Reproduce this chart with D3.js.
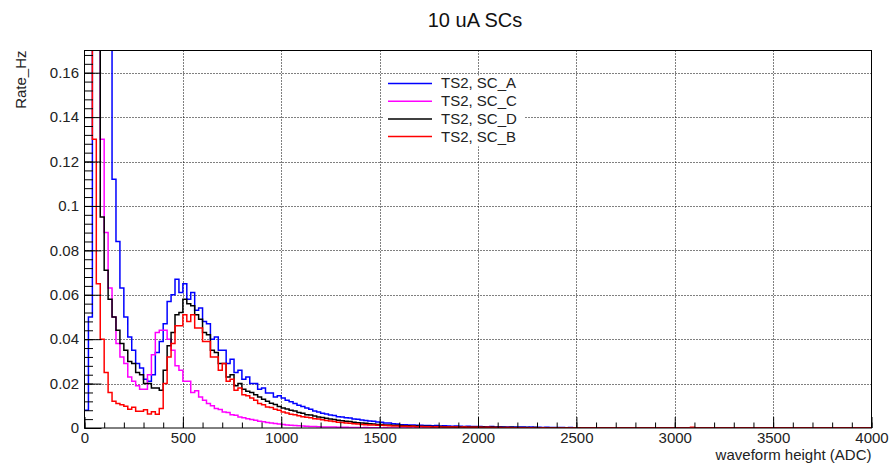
<!DOCTYPE html>
<html>
<head>
<meta charset="utf-8">
<script src="https://cdn.jsdelivr.net/npm/d3@7"></script>
<style>
  body { margin: 0; background: #fff; }
  svg { display: block; font-family: "Liberation Sans", Arial, sans-serif; }
</style>
</head>
<body>
<div id="chart"></div>
<script>
// histogram binning: 200 bins of 20 ADC over 0..4000
const binWidth = 20;

const title = "10 uA SCs";
const xTitle = "waveform height (ADC)";
const yTitle = "Rate_Hz";

const xTicks = [0, 500, 1000, 1500, 2000, 2500, 3000, 3500, 4000];
const xTickLabels = ["0", "500", "1000", "1500", "2000", "2500", "3000", "3500", "4000"];
const yTicks = [0, 0.02, 0.04, 0.06, 0.08, 0.1, 0.12, 0.14, 0.16];
const yTickLabels = ["0", "0.02", "0.04", "0.06", "0.08", "0.1", "0.12", "0.14", "0.16"];

const seriesNames = ["TS2, SC_A", "TS2, SC_C", "TS2, SC_D", "TS2, SC_B"];

// rate per bin (Hz), one row = 10 bins = 200 ADC
const rateA = [
  0.008, 0.05, 0.19, 0.30, 0.33, 0.26, 0.175, 0.112, 0.084, 0.063,
  0.050, 0.041, 0.035, 0.029, 0.027, 0.022, 0.021, 0.024, 0.034, 0.039,
  0.047, 0.057, 0.060, 0.067, 0.061, 0.065, 0.058, 0.061, 0.053, 0.054,
  0.048, 0.047, 0.040, 0.041, 0.035, 0.035, 0.029, 0.031, 0.025, 0.026,
  0.022, 0.023, 0.020, 0.020, 0.0175, 0.018, 0.0158, 0.0158, 0.014, 0.0145,
  0.0135, 0.0125, 0.0118, 0.011, 0.0102, 0.0097, 0.009, 0.0084, 0.0077, 0.0072,
  0.0066, 0.0063, 0.0058, 0.0056, 0.0051, 0.005, 0.0046, 0.0045, 0.0041, 0.0039,
  0.0036, 0.0034, 0.0031, 0.003, 0.0027, 0.0026, 0.0023, 0.0022, 0.0019, 0.0018,
  0.0015, 0.0015, 0.0013, 0.0014, 0.0012, 0.0012, 0.0011, 0.0011, 0.001, 0.0011,
  0.0009, 0.001, 0.0009, 0.0008, 0.0009, 0.0008, 0.0007, 0.0008, 0.0007, 0.0007,
  0.0007, 0.0006, 0.0006, 0.0007, 0.0005, 0.0006, 0.0005, 0.0005, 0.0004, 0.0005,
  0.0004, 0.0004, 0.0003, 0.0004, 0.0003, 0.0003, 0.0002, 0.0003, 0.0002, 0.0002,
  0.0002, 0.0002, 0.0001, 0.0002, 0.0001, 0.0001, 0.0001, 0, 0.0001, 0,
  0, 0, 0, 0, 0, 0, 0, 0, 0, 0,
  0, 0, 0, 0, 0, 0, 0, 0, 0, 0,
  0, 0, 0, 0, 0, 0, 0, 0, 0, 0,
  0, 0, 0, 0, 0, 0, 0, 0, 0, 0,
  0, 0, 0, 0, 0, 0, 0, 0, 0, 0,
  0, 0, 0, 0, 0, 0, 0, 0, 0, 0,
  0, 0, 0, 0, 0, 0, 0, 0, 0, 0
];

const rateC = [
  0.35, 0.46, 0.40, 0.22, 0.13, 0.088, 0.063, 0.050, 0.038, 0.032,
  0.029, 0.023, 0.021, 0.019, 0.0175, 0.0175, 0.024, 0.033, 0.043, 0.044,
  0.044, 0.040, 0.035, 0.028, 0.026, 0.021, 0.021, 0.016, 0.0168, 0.014,
  0.0125, 0.011, 0.010, 0.0088, 0.0083, 0.0072, 0.007, 0.006, 0.0057, 0.005,
  0.0046, 0.0042, 0.0038, 0.0035, 0.003, 0.0028, 0.0025, 0.0023, 0.002, 0.0018,
  0.0016, 0.0014, 0.0012, 0.0011, 0.001, 0.0009, 0.0008, 0.0007, 0.0007, 0.0006,
  0.0005, 0.0005, 0.0004, 0.0004, 0.0003, 0.0003, 0.0003, 0.0002, 0.0002, 0.0002,
  0.0001, 0.0002, 0.0001, 0.0001, 0.0001, 0, 0.0001, 0, 0, 0,
  0, 0, 0, 0, 0, 0, 0, 0, 0, 0,
  0, 0, 0, 0, 0, 0, 0, 0, 0, 0,
  0, 0, 0, 0, 0, 0, 0, 0, 0, 0,
  0, 0, 0, 0, 0, 0, 0, 0, 0, 0,
  0, 0, 0, 0, 0, 0, 0, 0, 0, 0,
  0, 0, 0, 0, 0, 0, 0, 0, 0, 0,
  0, 0, 0, 0, 0, 0, 0, 0, 0, 0,
  0, 0, 0, 0, 0, 0, 0, 0, 0, 0,
  0, 0, 0, 0, 0, 0, 0, 0, 0, 0,
  0, 0, 0, 0, 0, 0, 0, 0, 0, 0,
  0, 0, 0, 0, 0, 0, 0, 0, 0, 0,
  0, 0, 0, 0, 0, 0, 0, 0, 0, 0
];

const rateD = [
  0.30, 0.42, 0.34, 0.18, 0.095, 0.071, 0.058, 0.050, 0.044, 0.038,
  0.035, 0.030, 0.029, 0.025, 0.024, 0.020, 0.020, 0.018, 0.018, 0.017,
  0.026, 0.037, 0.043, 0.051, 0.052, 0.058, 0.056, 0.055, 0.051, 0.049,
  0.043, 0.042, 0.035, 0.034, 0.029, 0.029, 0.023, 0.024, 0.019, 0.020,
  0.0175, 0.0165, 0.016, 0.015, 0.014, 0.013, 0.012, 0.0112, 0.0106, 0.0097,
  0.009, 0.0086, 0.008, 0.0076, 0.007, 0.0066, 0.006, 0.0058, 0.0054, 0.005,
  0.0047, 0.0044, 0.004, 0.0038, 0.0035, 0.0033, 0.003, 0.0029, 0.0026, 0.0024,
  0.0022, 0.0021, 0.0019, 0.0018, 0.0016, 0.0016, 0.0014, 0.0014, 0.0012, 0.0012,
  0.0011, 0.001, 0.001, 0.0009, 0.0009, 0.0008, 0.0008, 0.0008, 0.0007, 0.0007,
  0.0007, 0.0006, 0.0006, 0.0006, 0.0005, 0.0005, 0.0005, 0.0004, 0.0005, 0.0004,
  0.0004, 0.0004, 0.0003, 0.0004, 0.0003, 0.0003, 0.0003, 0.0002, 0.0003, 0.0002,
  0.0002, 0.0002, 0.0002, 0.0001, 0.0002, 0.0001, 0.0001, 0.0001, 0.0001, 0.0001,
  0.0001, 0, 0.0001, 0, 0, 0.0001, 0, 0, 0, 0,
  0, 0, 0, 0, 0, 0, 0, 0, 0, 0,
  0, 0, 0, 0, 0, 0, 0, 0, 0, 0,
  0, 0, 0, 0, 0, 0, 0, 0, 0, 0,
  0, 0, 0, 0, 0, 0, 0, 0, 0, 0,
  0, 0, 0, 0, 0, 0, 0, 0, 0, 0,
  0, 0, 0, 0, 0, 0, 0, 0, 0, 0,
  0, 0, 0, 0, 0, 0, 0, 0, 0, 0
];

const rateB = [
  0.25, 0.40, 0.13, 0.065, 0.040, 0.025, 0.016, 0.012, 0.011, 0.0105,
  0.0098, 0.0085, 0.0093, 0.0075, 0.0075, 0.0082, 0.0063, 0.0073, 0.0062, 0.0088,
  0.020, 0.032, 0.038, 0.046, 0.046, 0.051, 0.048, 0.051, 0.045, 0.045,
  0.039, 0.039, 0.032, 0.032, 0.026, 0.029, 0.021, 0.022, 0.017, 0.018,
  0.015, 0.0145, 0.0135, 0.0125, 0.011, 0.0105, 0.0095, 0.0092, 0.0085, 0.008,
  0.0072, 0.0068, 0.0062, 0.006, 0.0055, 0.0051, 0.0048, 0.0046, 0.0042, 0.004,
  0.0037, 0.0034, 0.0031, 0.0029, 0.0026, 0.0025, 0.0022, 0.0021, 0.0019, 0.0018,
  0.0016, 0.0015, 0.0014, 0.0013, 0.0012, 0.0012, 0.0011, 0.001, 0.0009, 0.0009,
  0.0008, 0.0008, 0.0007, 0.0008, 0.0006, 0.0007, 0.0006, 0.0006, 0.0005, 0.0006,
  0.0005, 0.0004, 0.0005, 0.0004, 0.0004, 0.0003, 0.0004, 0.0003, 0.0003, 0.0003,
  0.0003, 0.0002, 0.0003, 0.0002, 0.0002, 0.0002, 0.0001, 0.0002, 0.0001, 0.0001,
  0.0001, 0.0001, 0, 0.0001, 0, 0, 0.0001, 0, 0, 0,
  0, 0, 0, 0, 0, 0, 0, 0, 0, 0,
  0, 0, 0, 0, 0, 0, 0, 0, 0, 0,
  0, 0, 0, 0, 0, 0, 0, 0, 0, 0,
  0, 0, 0, 0, 0.0003, 0, 0, 0, 0, 0,
  0, 0, 0, 0, 0, 0, 0, 0, 0, 0,
  0, 0, 0, 0, 0, 0, 0, 0, 0, 0,
  0, 0, 0, 0, 0, 0, 0, 0, 0, 0,
  0, 0, 0, 0, 0, 0, 0, 0, 0, 0
];

const seriesRates = [rateA, rateC, rateD, rateB];
const colors = ["#0000ff", "#ff00ff", "#000000", "#ff0000"];

const width = 890, height = 464;
const frame = {left: 84.5, right: 871.5, top: 50.5, bottom: 428};

const x = d3.scaleLinear().domain([0, 4000]).range([frame.left, frame.right]);
const y = d3.scaleLinear().domain([0, 0.17]).range([frame.bottom, frame.top]);

const svg = d3.select("#chart").append("svg")
    .attr("width", width)
    .attr("height", height)
    .attr("viewBox", [0, 0, width, height]);

svg.append("defs").append("clipPath")
    .attr("id", "frame-clip")
  .append("rect")
    .attr("x", frame.left)
    .attr("y", frame.top)
    .attr("width", frame.right - frame.left)
    .attr("height", frame.bottom - frame.top);

// dotted grid at the major ticks
const grid = svg.append("g")
    .attr("stroke", "#000")
    .attr("stroke-width", 1)
    .attr("stroke-dasharray", "1,2");

grid.selectAll(".gx")
  .data(xTicks.slice(1, -1))
  .join("line")
    .attr("x1", d => Math.round(x(d)) + 0.5)
    .attr("x2", d => Math.round(x(d)) + 0.5)
    .attr("y1", frame.top)
    .attr("y2", frame.bottom);

grid.selectAll(".gy")
  .data(yTicks.slice(1))
  .join("line")
    .attr("x1", frame.left)
    .attr("x2", frame.right)
    .attr("y1", d => Math.round(y(d)) + 0.5)
    .attr("y2", d => Math.round(y(d)) + 0.5);

// histograms drawn as steps along the bin edges
const line = d3.line()
    .x(d => x(d[0]))
    .y(d => y(d[1]));

const plot = svg.append("g").attr("clip-path", "url(#frame-clip)");

seriesRates.forEach((rates, i) => {
  const pts = rates.flatMap((v, b) => [[b * binWidth, v], [(b + 1) * binWidth, v]]);
  plot.append("path")
      .attr("d", line(pts))
      .attr("fill", "none")
      .attr("stroke", colors[i])
      .attr("stroke-width", 1.5)
      .attr("stroke-linejoin", "miter");
});

// axes
const yMinor = d3.range(0, 0.1701, 0.004);
const xMinor = d3.range(0, 4001, 100);

svg.append("g")
    .attr("transform", `translate(${frame.left},0)`)
    .call(d3.axisLeft(y).tickValues(yMinor).tickSize(-8.5).tickFormat(""))
    .call(g => g.select(".domain").remove());

svg.append("g")
    .attr("transform", `translate(${frame.left},0)`)
    .call(d3.axisLeft(y).tickValues(yTicks).tickSizeInner(-17).tickSizeOuter(0)
        .tickPadding(5.5).tickFormat((d, i) => yTickLabels[i]))
    .call(g => g.select(".domain").remove())
    .call(g => g.selectAll("text")
        .attr("font-size", 15)
        .attr("font-family", "Liberation Sans, Arial, sans-serif")
        .attr("fill", "#222"));

svg.append("g")
    .attr("transform", `translate(0,${frame.bottom})`)
    .call(d3.axisBottom(x).tickValues(xMinor).tickSize(-5.5).tickFormat(""))
    .call(g => g.select(".domain").remove());

svg.append("g")
    .attr("transform", `translate(0,${frame.bottom})`)
    .call(d3.axisBottom(x).tickValues(xTicks).tickSizeInner(-11).tickSizeOuter(0)
        .tickPadding(4.5).tickFormat((d, i) => xTickLabels[i]))
    .call(g => g.select(".domain").remove())
    .call(g => g.selectAll("text")
        .attr("font-size", 15)
        .attr("font-family", "Liberation Sans, Arial, sans-serif")
        .attr("fill", "#222"));

svg.selectAll(".tick line").attr("stroke", "#000");

// frame
svg.append("rect")
    .attr("x", frame.left)
    .attr("y", frame.top)
    .attr("width", frame.right - frame.left)
    .attr("height", frame.bottom - frame.top)
    .attr("fill", "none")
    .attr("stroke", "#000")
    .attr("stroke-width", 1);

// titles
svg.append("text")
    .attr("x", 475)
    .attr("y", 27)
    .attr("text-anchor", "middle")
    .attr("font-size", 20)
    .attr("fill", "#111")
    .text(title);

svg.append("text")
    .attr("x", frame.right)
    .attr("y", 460)
    .attr("text-anchor", "end")
    .attr("font-size", 15)
    .attr("fill", "#222")
    .text(xTitle);

svg.append("text")
    .attr("transform", `translate(26,${frame.top}) rotate(-90)`)
    .attr("text-anchor", "end")
    .attr("font-size", 15)
    .attr("fill", "#222")
    .text(yTitle);

// legend
const legend = svg.append("g")
    .attr("transform", "translate(388,83.5)");

const rows = legend.selectAll("g")
  .data(seriesNames)
  .join("g")
    .attr("transform", (d, i) => `translate(0,${i * 17.7})`);

rows.append("rect")
    .attr("x", -4)
    .attr("y", -8)
    .attr("width", 140)
    .attr("height", 17.7)
    .attr("fill", "#fff");

rows.append("line")
    .attr("x1", 0)
    .attr("x2", 44)
    .attr("stroke", (d, i) => colors[i])
    .attr("stroke-width", 1.5);

rows.append("text")
    .attr("x", 53)
    .attr("dy", "0.33em")
    .attr("font-size", 15)
    .attr("fill", "#222")
    .text(d => d);
</script>
</body>
</html>
